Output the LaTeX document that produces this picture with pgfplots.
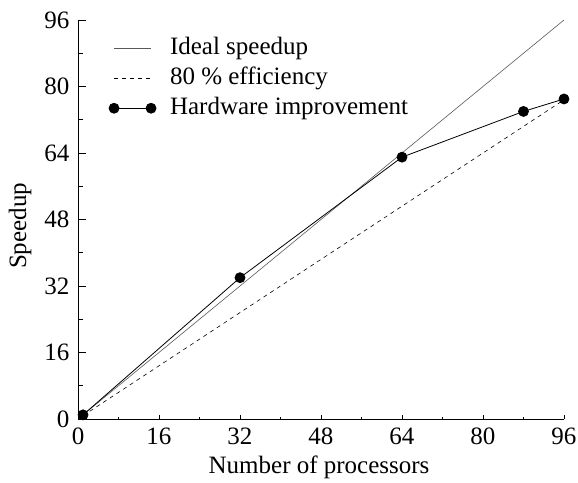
\documentclass[border=0pt]{standalone}
\usepackage{fontspec}
\setmainfont{Liberation Serif}
\usepackage{pgfplots}
\pgfplotsset{compat=1.18}
\pgfplotsset{
  legline/.style={legend image code/.code={\draw[##1] (0pt,0pt) -- (37pt,0pt);}},
  legmark/.style={legend image code/.code={\draw[##1] plot coordinates {(0pt,0pt) (37pt,0pt)};}},
}
\begin{document}
\fontsize{25}{30}\selectfont
\begin{tikzpicture}[x=1pt,y=1pt]
\path[use as bounding box] (0,0) rectangle (578,482);
\begin{axis}[
  at={(78pt,63pt)}, anchor=south west,
  scale only axis, width=486pt, height=399pt,
  xmin=0, xmax=96, ymin=0, ymax=96,
  axis x line=bottom, axis y line=left,
  axis line style={-, line width=0.8pt},
  xtick={0,16,...,96}, ytick={0,16,...,96},
  minor tick num=1,
  tick align=inside,
  tick style={black, line width=0.8pt},
  x tick style={/pgfplots/major tick length=4pt, /pgfplots/minor tick length=2.5pt},
  y tick style={/pgfplots/major tick length=8pt, /pgfplots/minor tick length=5pt},
  extra x ticks={96}, extra x tick labels={},
  extra x tick style={/pgfplots/major tick length=8pt},
  /pgf/number format/assume math mode=true,
  tick label style={font=\fontsize{25}{30}\selectfont},
  label style={font=\fontsize{25}{30}\selectfont},
  xlabel={Number of processors},
  ylabel={Speedup},
  xlabel style={at={(axis description cs:0.496,-0.12)}, anchor=center},
  ylabel style={at={(axis description cs:-0.119,0.484)}, anchor=center, rotate=0},
  legend style={draw=none, fill=none, font=\fontsize{25}{30}\selectfont,
    at={(axis cs:5.5,92.5)}, anchor=north west, row sep=7pt, column sep=14pt,
    nodes={inner sep=0pt, text height=18pt, text depth=5pt}},
  legend cell align=left,
  clip=false,
]
\addplot[gray!70!black, line width=0.6pt, legline]
  coordinates {(1,1) (96,96)};
\addlegendentry{Ideal speedup}
\addplot[black, line width=0.6pt, dash pattern=on 4pt off 4pt, legline]
  coordinates {(1,0.8) (96,76.8)};
\addlegendentry{80 \% efficiency}
\addplot[black, line width=0.8pt, mark=*, mark size=5pt, legmark]
  coordinates {(1,1) (32,34) (64,63) (88,74) (96,77)};
\addlegendentry{Hardware improvement}
\end{axis}
\end{tikzpicture}
\end{document}
